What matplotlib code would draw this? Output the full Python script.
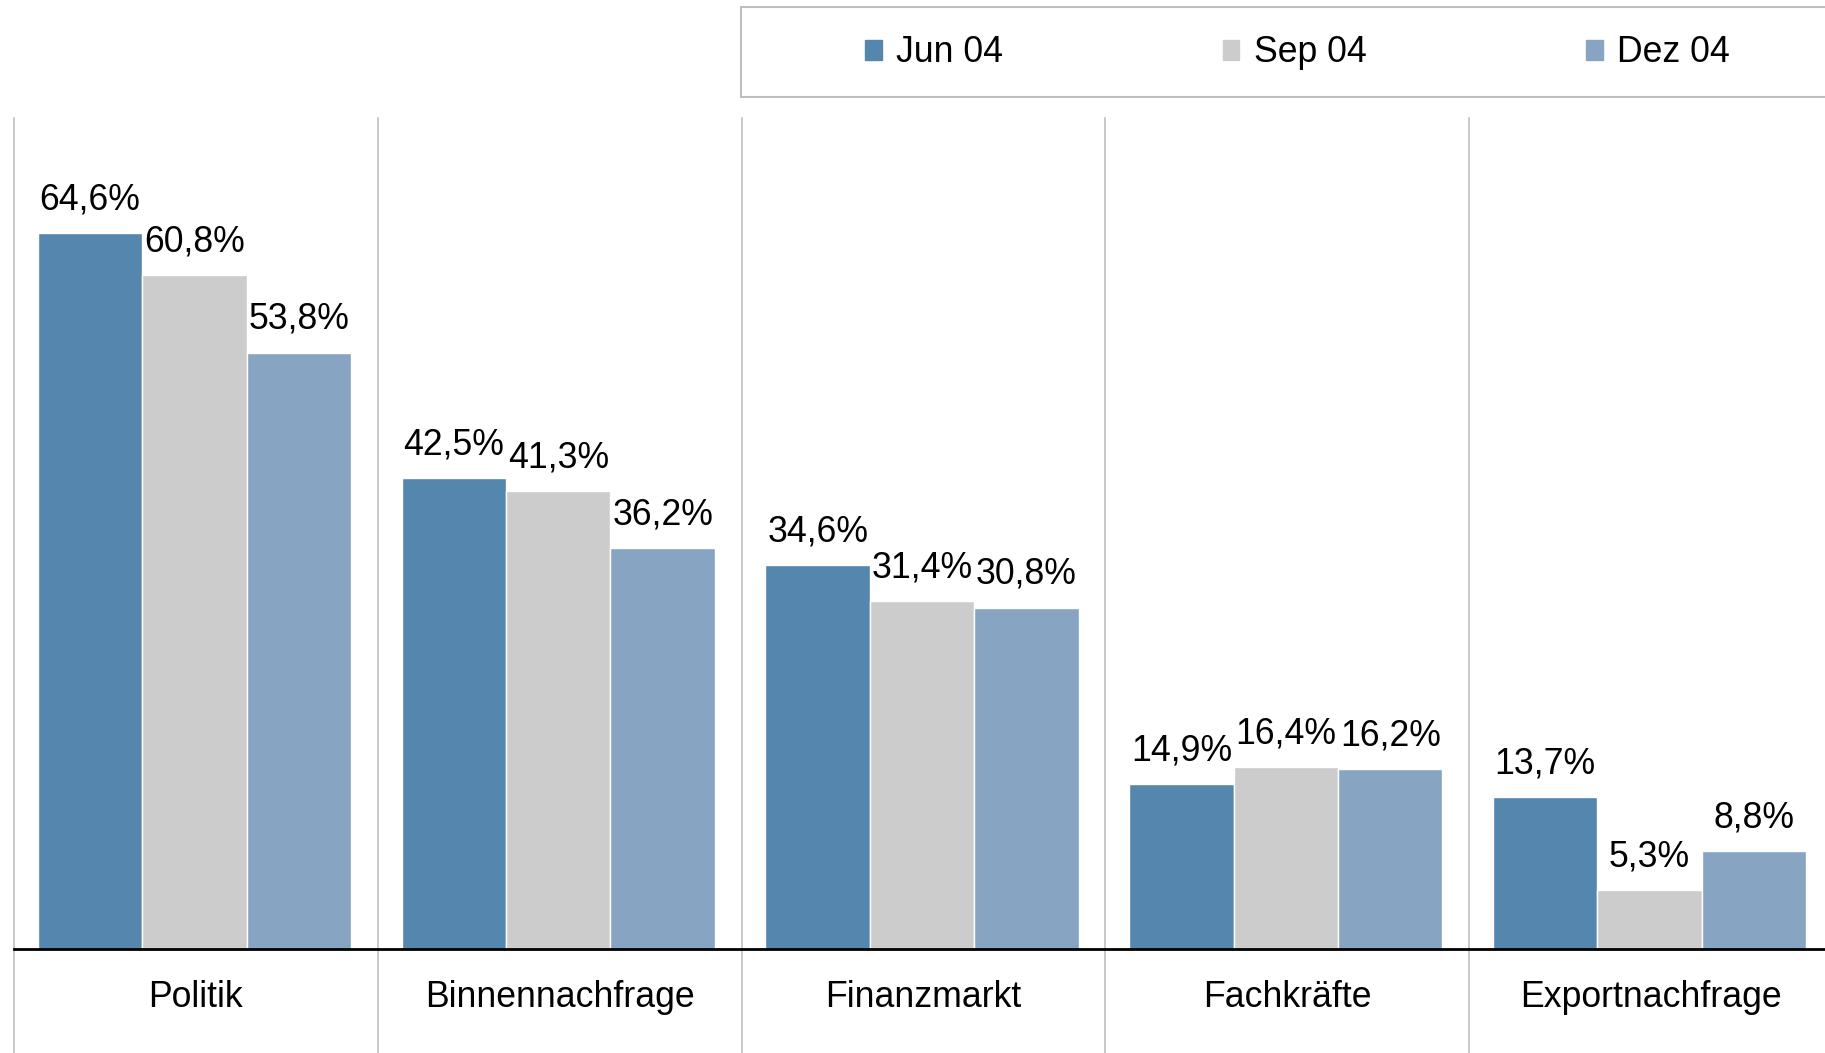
import matplotlib
matplotlib.use("Agg")
import matplotlib.pyplot as plt
import matplotlib.patches as mpatches
import matplotlib.transforms as mtransforms
import numpy as np

plt.rcParams['font.family'] = ['Liberation Sans', 'DejaVu Sans']

categories = ["Politik", "Binnennachfrage", "Finanzmarkt", "Fachkräfte", "Exportnachfrage"]
series_names = ["Jun 04", "Sep 04", "Dez 04"]
jun04 = [64.6, 42.5, 34.6, 14.9, 13.7]
sep04 = [60.8, 41.3, 31.4, 16.4, 5.3]
dez04 = [53.8, 36.2, 30.8, 16.2, 8.8]
colors = ["#5586AD", "#CCCCCC", "#87A4C3"]

W, H = 1825, 1053
fig = plt.figure(figsize=(W / 100, H / 100), dpi=100)
ax = fig.add_axes([14 / W, 1 - 949 / H, 1819 / W, (949 - 117.6) / H])

x = np.arange(len(categories))
bw = 0.287
fs = 25.7
for i, (vals, name, col) in enumerate(zip([jun04, sep04, dez04], series_names, colors)):
    pos = x + (i - 1) * bw - 0.004
    ax.bar(pos, vals, width=bw, color=col, edgecolor="white", linewidth=1, label=name, zorder=2)
    for xp, v in zip(pos, vals):
        ax.annotate(f"{v:.1f}%".replace(".", ","), (xp, v), xytext=(0, 17), textcoords="offset points",
                    ha="center", va="baseline", fontsize=fs, color="black")

ax.set_xlim(-0.5, len(categories) - 0.5)
ax.set_ylim(0, 75)
for s in ["top", "right", "left"]:
    ax.spines[s].set_visible(False)
ax.spines["bottom"].set_linewidth(2)
ax.spines["bottom"].set_color("black")
ax.spines["bottom"].set_zorder(3)
ax.set_yticks([])
ax.set_xticks(x)
ax.set_xticklabels(categories, fontsize=fs)
ax.tick_params(axis="x", length=0, pad=22.5)

trans = mtransforms.blended_transform_factory(ax.transData, ax.transAxes)
bottom_ax = -(H - 949) / (949 - 117.6)
for b in np.arange(-0.5, len(categories), 1.0):
    ax.plot([b, b], [bottom_ax, 1], transform=trans, color="#C0C0C0", lw=1.2, clip_on=False, zorder=1)

# legend box
fig.patches.append(mpatches.Rectangle((741 / W, 1 - 97 / H), 1.2, 90 / H, transform=fig.transFigure,
                                      facecolor="white", edgecolor="#BFBFBF", lw=1.5))
handles = [mpatches.Patch(color=c, label=n) for c, n in zip(colors, series_names)]
fig.legend(handles=handles, loc="center left", bbox_to_anchor=(865 / W, 1 - 53 / H), ncol=3,
           frameon=False, fontsize=fs, borderpad=0, borderaxespad=0, handlelength=0.47,
           handleheight=0.47, handletextpad=0.4, columnspacing=6.15)

fig.savefig("out.png", dpi=100)
